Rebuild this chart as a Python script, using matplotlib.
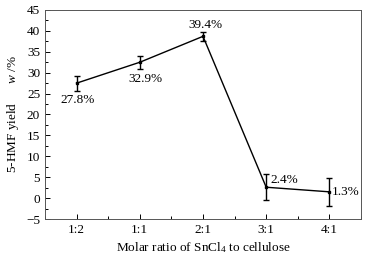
import matplotlib
matplotlib.use("Agg")
import matplotlib.pyplot as plt
from matplotlib.ticker import MultipleLocator

plt.rcParams['font.family'] = ['Liberation Serif', 'DejaVu Serif']
plt.rcParams['mathtext.fontset'] = 'custom'
plt.rcParams['mathtext.rm'] = 'Liberation Serif'
plt.rcParams['mathtext.it'] = 'Liberation Serif:italic'

ratios = ['1:2', '1:1', '2:1', '3:1', '4:1']
yields = [27.5, 32.5, 38.7, 2.6, 1.5]
errors = [1.8, 1.5, 1.0, 3.1, 3.3]
labels = ['27.8%', '32.9%', '39.4%', '2.4%', '1.3%']
# label offsets in points and alignment
offsets = [(1, -12), (4, -12), (2, 8), (3, 5), (2, 0)]
aligns = ['center', 'center', 'center', 'left', 'left']

fs = 9.5

fig = plt.figure(figsize=(3.72, 2.59), dpi=100)
ax = fig.add_axes([45 / 372, 40 / 259, 316 / 372, 209 / 259])

x = list(range(len(ratios)))
ax.errorbar(x, yields, yerr=errors, color='black', lw=1.0, elinewidth=1.0,
            capsize=2, capthick=1.0, marker='s', markersize=2)

for xi, yi, lab, off, ha in zip(x, yields, labels, offsets, aligns):
    ax.annotate(lab, (xi, yi), xytext=off, textcoords='offset points',
                ha=ha, va='center', fontsize=fs)

ax.set_xlim(-0.5, 4.5)
ax.set_ylim(-5, 45)
ax.set_xticks(x)
ax.set_xticklabels(ratios)
ax.xaxis.set_minor_locator(MultipleLocator(0.5))
ax.yaxis.set_major_locator(MultipleLocator(5))
ax.yaxis.set_minor_locator(MultipleLocator(2.5))
ax.tick_params(which='both', direction='in', labelsize=fs, top=False, right=False)
ax.tick_params(which='major', length=3.5, width=0.7)
ax.tick_params(which='minor', length=2, width=0.7)
ax.set_yticks(range(-5, 50, 5))
ax.set_yticklabels(['\u22125'] + [str(v) for v in range(0, 50, 5)])

for s in ax.spines.values():
    s.set_linewidth(0.7)
    s.set_color('#555555')

ax.set_xlabel('Molar ratio of SnCl$_4$ to cellulose', fontsize=fs, labelpad=3)
ax.set_ylabel('5-HMF yield      $w$ /%', fontsize=fs, labelpad=4)

fig.savefig('out.png', dpi=100)
